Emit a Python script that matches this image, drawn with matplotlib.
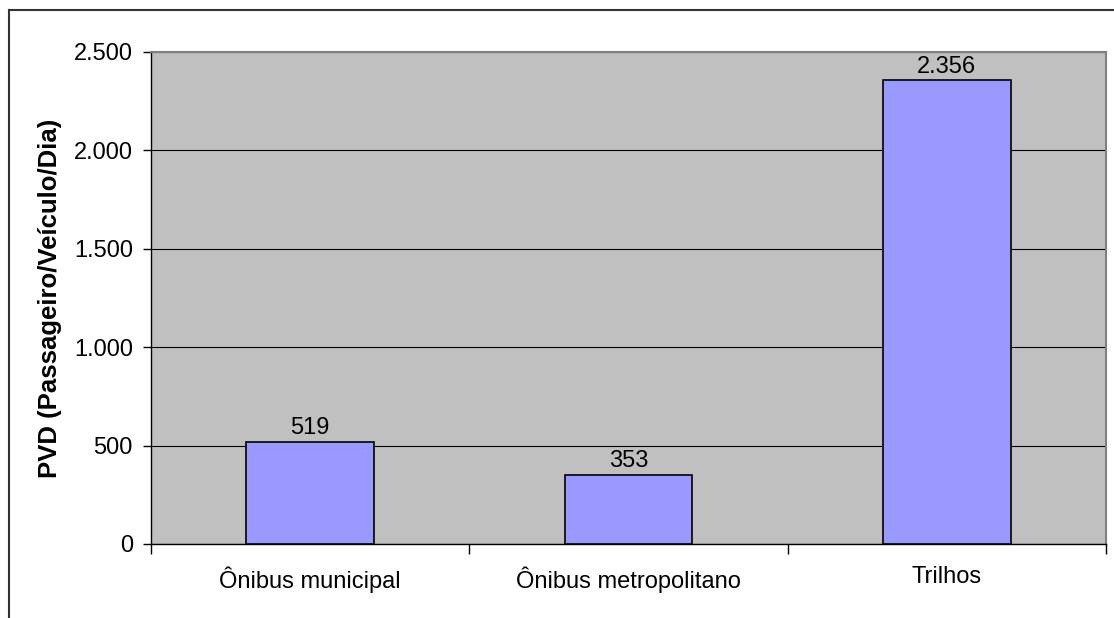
import numpy as np
import matplotlib
matplotlib.use("Agg")
import matplotlib.pyplot as plt
from matplotlib.lines import Line2D
from matplotlib.ticker import FuncFormatter, FixedLocator

categories = ["Ônibus municipal", "Ônibus metropolitano", "Trilhos"]
values = [519, 353, 2356]
y_ticks = [0, 500, 1000, 1500, 2000, 2500]


def br_fmt(v, pos=None):
    return f"{v:,.0f}".replace(",", ".")


plt.rcParams["font.family"] = ["Liberation Sans", "DejaVu Sans"]

W, H = 1114, 618
fig = plt.figure(figsize=(W / 100, H / 100), dpi=100)
fig.patch.set_facecolor("white")

# outer chart frame (top and left edges visible)
fx, fy = 9 / W, 1 - 10 / H
fig.add_artist(Line2D([fx, fx], [0, fy], color="#333333", lw=1.5, transform=fig.transFigure))
fig.add_artist(Line2D([fx, 1], [fy, fy], color="#333333", lw=1.5, transform=fig.transFigure))

ax = fig.add_axes([151 / W, 1 - 544 / H, (1106 - 151) / W, (544 - 52) / H])
ax.set_facecolor("#C0C0C0")

x = np.arange(len(categories))
bars = ax.bar(x, values, width=0.4, color="#9999FF", edgecolor="black", linewidth=1.2, zorder=3)

ax.set_xlim(-0.5, len(categories) - 0.5)
ax.set_ylim(0, 2500)
ax.set_yticks(y_ticks)
ax.yaxis.set_major_formatter(FuncFormatter(br_fmt))
ax.grid(axis="y", color="black", linewidth=0.8, zorder=1)
ax.set_axisbelow(True)

ax.set_xticks(x)
ax.set_xticklabels(categories, fontsize=17)
ax.tick_params(axis="x", length=0, pad=16)
ax.xaxis.set_minor_locator(FixedLocator(np.arange(len(categories) + 1) - 0.5))
ax.tick_params(axis="x", which="minor", length=7, width=1, color="black", direction="out")
ax.tick_params(axis="y", labelsize=17, length=6, width=1, direction="out", pad=7)

for s in ["top", "right"]:
    ax.spines[s].set_color("#808080")
    ax.spines[s].set_linewidth(1.5)
for s in ["left", "bottom"]:
    ax.spines[s].set_color("black")
    ax.spines[s].set_linewidth(1)

ax.set_ylabel("PVD (Passageiro/Veículo/Dia)", fontsize=18.5, fontweight="bold")
ax.yaxis.set_label_coords(-0.093, 0.5)

for b, v in zip(bars, values):
    ax.annotate(br_fmt(v), (b.get_x() + b.get_width() / 2, b.get_height()),
                xytext=(0, 2), textcoords="offset points",
                ha="center", va="bottom", fontsize=17)

fig.savefig("out.png", dpi=100)
